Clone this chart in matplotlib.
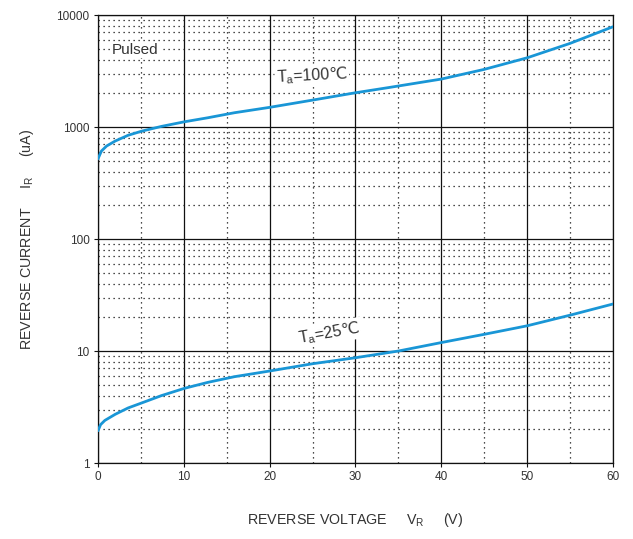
import numpy as np
import matplotlib
matplotlib.use("Agg")
import matplotlib.pyplot as plt
from matplotlib.ticker import FixedLocator, NullFormatter, FuncFormatter

plt.rcParams['font.family'] = ['Liberation Sans', 'DejaVu Sans']
plt.rcParams['mathtext.fontset'] = 'custom'
plt.rcParams['mathtext.rm'] = 'Liberation Sans'
plt.rcParams['mathtext.it'] = 'Liberation Sans'
plt.rcParams['mathtext.sf'] = 'DejaVu Sans'

# data (V in volts, I in uA)
v_100 = [0, 0.4, 1.0, 2.0, 3.5, 5.1, 7.4, 10.1, 12.8, 15.9, 20, 25, 30, 34, 40, 45, 50, 55, 60]
i_100 = [520, 611, 677, 750, 844, 920, 1014, 1116, 1211, 1343, 1500, 1741, 2025, 2262, 2683, 3275, 4155, 5590, 7870]

v_25 = [0, 0.3, 0.8, 2.0, 3.5, 5.1, 7.4, 10.1, 12.8, 15.9, 20, 25, 30, 35, 40, 45, 50, 55, 60]
i_25 = [1.94, 2.2, 2.4, 2.72, 3.1, 3.44, 4.0, 4.65, 5.25, 5.9, 6.63, 7.7, 8.71, 10.0, 11.9, 14.1, 16.8, 20.9, 26.3]

blue = '#1996d6'
txt = '#333333'

fig = plt.figure(figsize=(6.33, 5.39), dpi=100)
ax = fig.add_axes([0.1548, 0.141, 0.8136, 0.831])

ax.plot(v_100, i_100, color=blue, lw=2.0, solid_capstyle='round', zorder=5)
ax.plot(v_25, i_25, color=blue, lw=2.0, solid_capstyle='round', zorder=5)

ax.set_yscale('log')
ax.set_xlim(0, 60)
ax.set_ylim(1, 10000)

ax.xaxis.set_major_locator(FixedLocator([0, 10, 20, 30, 40, 50, 60]))
ax.xaxis.set_minor_locator(FixedLocator([5, 15, 25, 35, 45, 55]))
ax.yaxis.set_major_locator(FixedLocator([1, 10, 100, 1000, 10000]))
minor_y = [m * 10 ** d for d in range(4) for m in range(2, 10)]
ax.yaxis.set_minor_locator(FixedLocator(minor_y))
ax.yaxis.set_major_formatter(FuncFormatter(lambda v, p: f"{int(round(v))}"))
ax.yaxis.set_minor_formatter(NullFormatter())

ax.grid(True, which='major', color='#111111', lw=0.9)
ax.grid(True, which='minor', color='#111111', lw=0.9, linestyle=(0, (1, 3)))
ax.set_axisbelow(True)

ax.tick_params(which='major', length=3, width=0.8, colors='#111111', labelcolor=txt, labelsize=8.5, pad=3)
ax.tick_params(which='minor', length=0)
for s in ax.spines.values():
    s.set_color('#111111')
    s.set_linewidth(0.9)

ax.set_xlabel(r'REVERSE VOLTAGE     V$_{\rm R}$     (V)', fontsize=10.3, color=txt, labelpad=20)
ax.set_ylabel(r'REVERSE CURRENT     I$_{\rm R}$     (uA)', fontsize=10.3, color=txt, labelpad=15)

box = dict(facecolor='white', edgecolor='none', pad=1)
ax.text(1.6, 4500, 'Pulsed', fontsize=11, color=txt, bbox=box, zorder=6)
ax.text(20.7, 2500, r'T$_{\rm a}$=100$\mathsf{℃}$', fontsize=11.5, color=txt, bbox=box, zorder=6, rotation=3)
ax.text(23.2, 11.8, r'T$_{\rm a}$=25$\mathsf{℃}$', fontsize=11.5, color=txt, bbox=box, zorder=6, rotation=10)

fig.savefig('out.png', dpi=100)
